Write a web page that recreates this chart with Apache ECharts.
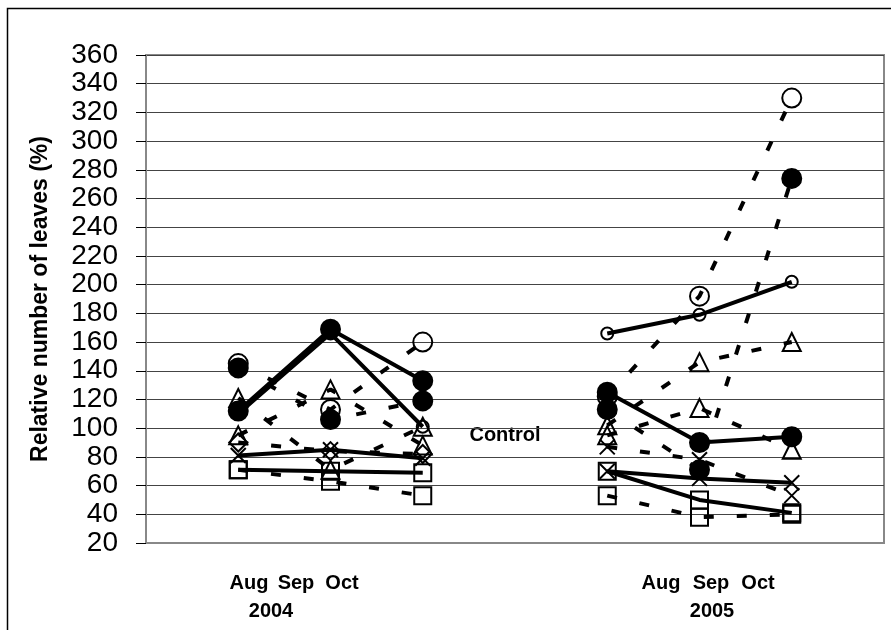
<!DOCTYPE html>
<html>
<head>
<meta charset="utf-8">
<script src="https://cdn.jsdelivr.net/npm/echarts@6/dist/echarts.min.js"></script>
<style>
  html, body { margin: 0; padding: 0; background: #fff; }
  #chart { width: 891px; height: 630px; }
</style>
</head>
<body>
<div id="chart"></div>
<script>
// x slots: blank, Aug-Oct 2004, gap, Aug-Oct 2005, blank
const categories = ['', 'Aug 2004', 'Sep 2004', 'Oct 2004', '', 'Aug 2005', 'Sep 2005', 'Oct 2005', '']
const monthLabels = ['Aug', 'Sep', 'Oct']
const yearLabels = ['2004', '2005']
const yTicks = [20, 40, 60, 80, 100, 120, 140, 160, 180, 200, 220, 240, 260, 280, 300, 320, 340, 360]

// values: Aug04, Sep04, Oct04, Aug05, Sep05, Oct05
const filledCircleSolid = [112, 169, 133, 125, 90, 94]
const openCircleSolid = [110, 166, 101, 166, 179, 202]
const crossSolid = [81, 85, 79, 70, 65, 62]
const squareSolid = [71, 70, 69, 70, 50, 41]
const openCircleDashed = [145, 113, 160, 122, 192, 330]
const filledCircleDashed = [142, 106, 119, 113, 71, 274]
const triangleDashedA = [121, 71, 101, 102, 146, 160]
const triangleDashedB = [95, 127, 88, 95, 114, 85]
const diamondDashed = [90, 84, 82, null, null, null]
const crossDashed = [null, null, null, 87, 78, 53]
const squareDashed = [71, 63, 53, 53, 38, 40]

const X_PATH = 'path://M0,0L10,10M10,0L0,10'

function slots(v) {
  return [null, v[0], v[1], v[2], null, v[3], v[4], v[5], null]
}

function line(name, values, symbol, size, filled, dashed) {
  return {
    name: name,
    type: 'line',
    data: slots(values),
    connectNulls: false,
    symbol: symbol,
    symbolSize: size,
    showAllSymbol: true,
    itemStyle: {
      color: filled ? '#000' : 'rgba(0,0,0,0)',
      borderColor: '#000',
      borderWidth: 2
    },
    lineStyle: {
      color: '#000',
      width: 4,
      type: dashed ? [10, 23] : 'solid'
    },
    emphasis: { disabled: true },
    silent: true,
    animation: false
  }
}

const chart = echarts.init(document.getElementById('chart'))

const textFont = 'Liberation Sans, Arial, sans-serif'
const graphics = [
  { type: 'rect', shape: { x: 7.5, y: 8.5, width: 900, height: 700 },
    style: { fill: 'none', stroke: '#000', lineWidth: 1.5 }, silent: true },
  { type: 'text', x: 505, y: 435,
    style: { text: 'Control', font: 'bold 20px ' + textFont, fill: '#000', align: 'center', verticalAlign: 'middle' } }
]
const monthX = [[249, 296, 342], [661, 711, 758]]
const yearX = [271, 712]
yearLabels.forEach(function (yr, i) {
  monthLabels.forEach(function (m, j) {
    graphics.push({ type: 'text', x: monthX[i][j], y: 583,
      style: { text: m, font: 'bold 20px ' + textFont, fill: '#000', align: 'center', verticalAlign: 'middle' } })
  })
  graphics.push({ type: 'text', x: yearX[i], y: 611,
    style: { text: yr, font: 'bold 20px ' + textFont, fill: '#000', align: 'center', verticalAlign: 'middle' } })
})

chart.setOption({
  backgroundColor: '#fff',
  animation: false,
  grid: {
    left: 146, right: 7, top: 55, bottom: 87,
    show: true, borderColor: '#888', borderWidth: 2,
    outerBoundsMode: 'none'
  },
  xAxis: {
    type: 'category',
    data: categories,
    boundaryGap: false,
    axisLine: { lineStyle: { color: '#888', width: 2 } },
    axisTick: { show: false },
    axisLabel: { show: false },
    splitLine: { show: false }
  },
  yAxis: {
    type: 'value',
    min: yTicks[0], max: yTicks[yTicks.length - 1], interval: 20,
    name: 'Relative number of leaves (%)',
    nameLocation: 'middle',
    nameGap: 94,
    nameTextStyle: { fontFamily: textFont, fontWeight: 'bold', fontSize: 23, color: '#000' },
    axisLine: { show: true, lineStyle: { color: '#888', width: 2 } },
    axisTick: { show: true, length: 10, lineStyle: { color: '#000' } },
    axisLabel: {
      margin: 28, fontFamily: textFont, fontSize: 28, color: '#000',
      customValues: yTicks,
      showMinLabel: true, showMaxLabel: true, hideOverlap: false
    },
    splitLine: { lineStyle: { color: '#444', width: 1 } }
  },
  graphic: graphics,
  series: [
    line('open circle dashed', openCircleDashed, 'circle', 19, false, true),
    line('filled circle dashed', filledCircleDashed, 'circle', 19, true, true),
    line('triangle dashed A', triangleDashedA, 'triangle', 18, false, true),
    line('triangle dashed B', triangleDashedB, 'triangle', 18, false, true),
    line('diamond dashed', diamondDashed, 'diamond', 18, false, true),
    line('cross dashed', crossDashed, X_PATH, 15, false, true),
    line('square dashed', squareDashed, 'rect', 17, false, true),
    line('filled circle solid', filledCircleSolid, 'circle', 19, true, false),
    line('open circle solid', openCircleSolid, 'circle', 12, false, false),
    line('cross solid', crossSolid, X_PATH, 15, false, false),
    line('square solid', squareSolid, 'rect', 17, false, false)
  ]
})

window.addEventListener('resize', function () {
  chart.resize()
})
</script>
</body>
</html>
